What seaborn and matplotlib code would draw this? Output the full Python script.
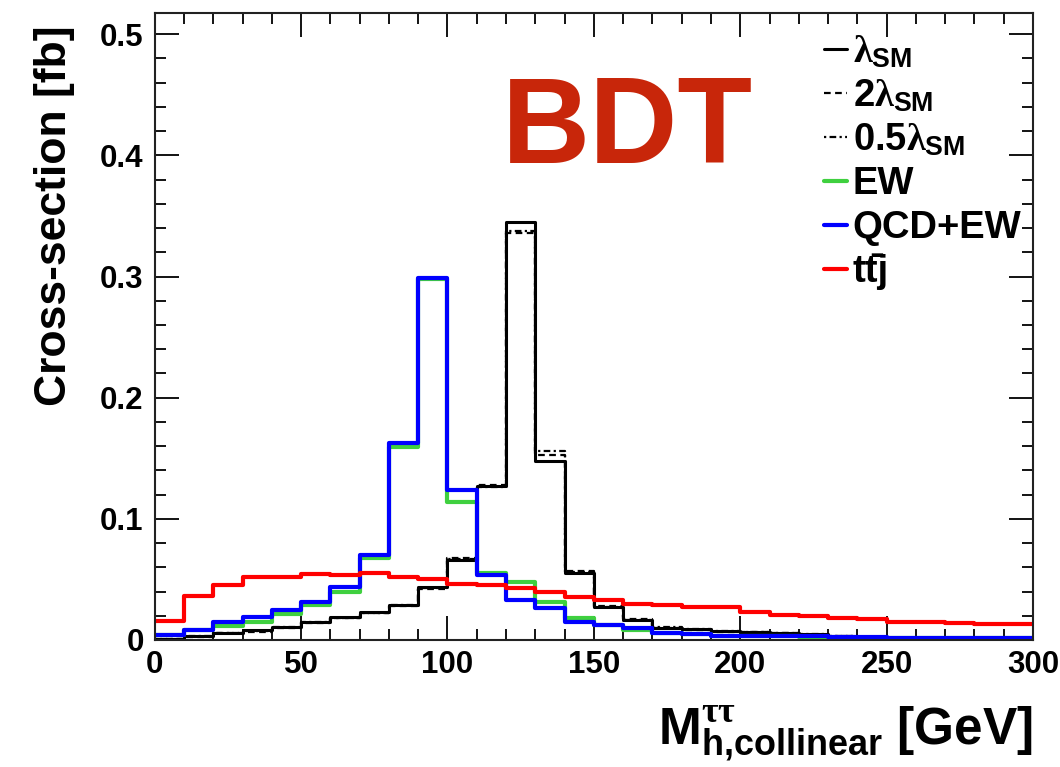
import numpy as np
import pandas as pd
import seaborn as sns
import matplotlib.pyplot as plt
from matplotlib.lines import Line2D
from matplotlib.ticker import MultipleLocator

# bin edges of the collinear mass histogram (GeV)
edges = np.arange(0, 301, 10)
centers = edges[:-1] + 5

lam_sm = [0.001, 0.003, 0.006, 0.008, 0.011, 0.015, 0.019, 0.023, 0.029, 0.044,
          0.066, 0.127, 0.345, 0.148, 0.055, 0.027, 0.0165, 0.010, 0.009, 0.0075,
          0.007, 0.006, 0.005, 0.003, 0.0025, 0.002, 0.002, 0.0015, 0.0015, 0.001]
lam_2sm = [0.001, 0.0025, 0.0055, 0.007, 0.010, 0.014, 0.018, 0.022, 0.028, 0.042,
           0.068, 0.128, 0.336, 0.153, 0.057, 0.028, 0.017, 0.010, 0.0085, 0.007,
           0.0065, 0.0055, 0.0045, 0.003, 0.0025, 0.002, 0.0018, 0.0015, 0.0012, 0.001]
lam_05sm = [0.0012, 0.003, 0.006, 0.0075, 0.0105, 0.0145, 0.0185, 0.0225, 0.029, 0.043,
            0.067, 0.126, 0.338, 0.156, 0.056, 0.0275, 0.0168, 0.0105, 0.009, 0.0072,
            0.0068, 0.0058, 0.0048, 0.0032, 0.0025, 0.002, 0.002, 0.0014, 0.0014, 0.001]
ew = [0.004, 0.008, 0.0116, 0.015, 0.0215, 0.029, 0.040, 0.068, 0.1595, 0.298,
      0.114, 0.055, 0.048, 0.031, 0.018, 0.0124, 0.0085, 0.006, 0.005, 0.0035,
      0.003, 0.003, 0.0025, 0.002, 0.002, 0.0018, 0.0016, 0.0015, 0.0015, 0.0015]
qcd_ew = [0.004, 0.0083, 0.0146, 0.0187, 0.0248, 0.031, 0.044, 0.070, 0.1623, 0.299,
          0.1238, 0.054, 0.033, 0.026, 0.015, 0.012, 0.0096, 0.0055, 0.005, 0.0035,
          0.003, 0.003, 0.003, 0.0022, 0.0022, 0.002, 0.002, 0.0016, 0.002, 0.002]
ttj = [0.016, 0.036, 0.045, 0.052, 0.052, 0.0545, 0.054, 0.0556, 0.0523, 0.050,
       0.046, 0.0454, 0.0426, 0.040, 0.0352, 0.033, 0.030, 0.029, 0.0275, 0.0275,
       0.0234, 0.021, 0.0195, 0.018, 0.017, 0.015, 0.015, 0.0143, 0.0132, 0.0132]

series = [
    (r"$\lambda_{\mathrm{SM}}$", lam_sm, "black", "-", 2.2),
    (r"2$\lambda_{\mathrm{SM}}$", lam_2sm, "black", (0, (3, 2)), 1.6),
    (r"0.5$\lambda_{\mathrm{SM}}$", lam_05sm, "black", (0, (1, 1.5, 3, 1.5)), 1.6),
    ("EW", ew, "#3fd03f", "-", 3.0),
    ("QCD+EW", qcd_ew, "#0000ff", "-", 3.0),
    ("tt\u0304j", ttj, "#ff0000", "-", 3.0),
]

sns.set_style("ticks")
plt.rcParams["font.family"] = ["Liberation Sans", "DejaVu Sans"]
plt.rcParams["font.weight"] = "bold"
plt.rcParams["text.color"] = "black"
plt.rcParams["axes.labelcolor"] = "black"
plt.rcParams["xtick.color"] = "black"
plt.rcParams["ytick.color"] = "black"
plt.rcParams["mathtext.fontset"] = "custom"
plt.rcParams["mathtext.rm"] = "Liberation Sans:bold"
plt.rcParams["mathtext.bf"] = "Liberation Sans:bold"
plt.rcParams["mathtext.it"] = "Liberation Serif"

fig = plt.figure(figsize=(10.6, 7.67), dpi=100)
ax = fig.add_axes([0.146, 0.1656, 0.8285, 0.8174])

# draw order: black curves, then EW, QCD+EW, ttj on top
for name, vals, col, ls, lw in series:
    df = pd.DataFrame({"mass": centers, "xsec": vals})
    sns.histplot(data=df, x="mass", weights="xsec", bins=list(edges), element="step",
                 fill=False, color=col, linestyle=ls, linewidth=lw, ax=ax)

ax.set_xlim(0, 300)
ax.set_ylim(0, 0.5175)
ax.xaxis.set_major_locator(MultipleLocator(50))
ax.xaxis.set_minor_locator(MultipleLocator(10))
ax.yaxis.set_minor_locator(MultipleLocator(0.02))
ax.set_yticks([0, 0.1, 0.2, 0.3, 0.4, 0.5], ["0", "0.1", "0.2", "0.3", "0.4", "0.5"])
ax.tick_params(which="both", direction="in", top=True, right=True, labelsize=22.5,
               width=1.3, colors="black")
ax.tick_params(which="major", length=17)
ax.tick_params(which="minor", length=8)
ax.tick_params(axis="y", pad=8)
ax.tick_params(axis="x", pad=7)
for sp in ax.spines.values():
    sp.set_linewidth(1.5)
    sp.set_color("#222222")
for lab in ax.get_xticklabels() + ax.get_yticklabels():
    lab.set_fontweight("bold")

ax.set_ylabel("Cross-section [fb]", fontsize=32, fontweight="bold", color="black")
ax.yaxis.set_label_coords(-0.091, 0.676)
ax.set_xlabel(r"$\mathrm{M}^{\tau\tau}_{\mathrm{h{,}collinear}}$ [GeV]", fontsize=37,
              fontweight="bold", color="black")
ax.xaxis.set_label_coords(1.0, -0.1675)
ax.xaxis.label.set_horizontalalignment("right")
ax.xaxis.label.set_verticalalignment("baseline")

handles = [Line2D([], [], color=c, linestyle=ls, linewidth=lw) for _, _, c, ls, lw in series]
labels = [s[0] for s in series]
leg = ax.legend(handles, labels, loc="upper left", bbox_to_anchor=(0.762, 0.966),
                frameon=False, fontsize=27.5, handlelength=0.6, handletextpad=0.15,
                labelspacing=0.2, borderpad=0, borderaxespad=0)
for t in leg.get_texts():
    t.set_fontweight("bold")
    t.set_color("black")

ax.text(0.395, 0.812, "BDT", transform=ax.transAxes, fontsize=88, fontweight="bold",
        color="#c8260a", ha="left", va="center")

fig.savefig("out.png", dpi=100)
